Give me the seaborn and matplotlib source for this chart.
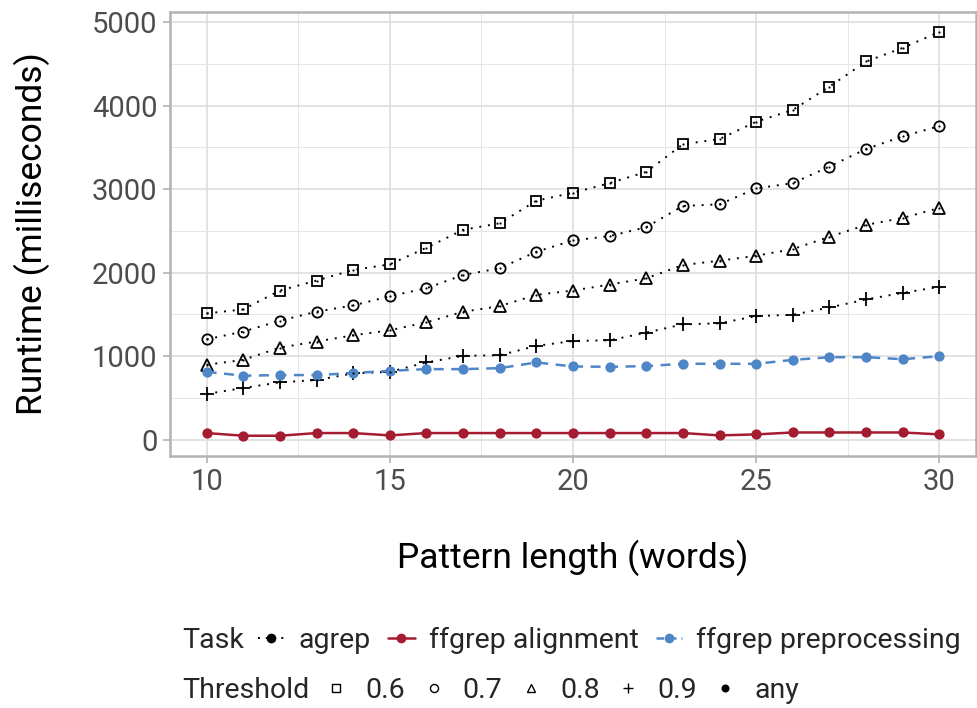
import matplotlib
matplotlib.use("Agg")
import matplotlib.pyplot as plt
import seaborn as sns
import numpy as np
import pandas as pd
from matplotlib.lines import Line2D
from matplotlib.ticker import MultipleLocator

lengths = list(range(10, 31))
agrep_06 = [1512, 1560, 1786, 1905, 2032, 2099, 2298, 2512, 2591, 2861, 2956,
            3071, 3206, 3536, 3599, 3806, 3948, 4226, 4527, 4690, 4881]
agrep_07 = [1202, 1294, 1425, 1532, 1607, 1718, 1813, 1972, 2052, 2250, 2385,
            2437, 2544, 2798, 2817, 3008, 3071, 3270, 3480, 3631, 3754]
agrep_08 = [897, 956, 1103, 1175, 1250, 1310, 1405, 1532, 1599, 1734, 1786,
            1857, 1932, 2091, 2143, 2202, 2282, 2429, 2571, 2655, 2774]
agrep_09 = [548, 619, 687, 714, 794, 813, 925, 1004, 1012, 1123, 1182,
            1190, 1282, 1381, 1393, 1480, 1496, 1583, 1679, 1758, 1830]
ffgrep_alignment = [80, 48, 48, 80, 80, 52, 80, 80, 80, 80, 80,
                    80, 80, 80, 52, 64, 87, 87, 87, 87, 64]
ffgrep_preprocessing = [813, 766, 774, 774, 798, 825, 845, 845, 857, 925, 877,
                        873, 881, 909, 909, 909, 956, 988, 988, 964, 1000]

tasks = ["agrep", "ffgrep alignment", "ffgrep preprocessing"]
thresholds = ["0.6", "0.7", "0.8", "0.9", "any"]

rows = []
for thr, vals in zip(thresholds[:4], [agrep_06, agrep_07, agrep_08, agrep_09]):
    for x, y in zip(lengths, vals):
        rows.append(("agrep", thr, x, y))
for x, y in zip(lengths, ffgrep_alignment):
    rows.append(("ffgrep alignment", "any", x, y))
for x, y in zip(lengths, ffgrep_preprocessing):
    rows.append(("ffgrep preprocessing", "any", x, y))
df = pd.DataFrame(rows, columns=["Task", "Threshold", "length", "runtime"])

RED = "#A51C30"
BLUE = "#4E86C8"
task_colors = {"agrep": "black", "ffgrep alignment": RED, "ffgrep preprocessing": BLUE}
task_ls = {"agrep": (0, (1, 3.5)), "ffgrep alignment": "-", "ffgrep preprocessing": (0, (4, 3))}
task_lw = {"agrep": 1.4, "ffgrep alignment": 1.8, "ffgrep preprocessing": 1.8}
thr_markers = {"0.6": "s", "0.7": "o", "0.8": "^", "0.9": "+", "any": "o"}
thr_ms = {"0.6": 6.8, "0.7": 7.4, "0.8": 8.2, "0.9": 9.4, "any": 7.4}

sns.set_theme(style="white")
plt.rcParams['font.family'] = ['Roboto', 'DejaVu Sans']

fig = plt.figure(figsize=(9.78, 7.08), dpi=100)
ax = fig.add_axes([0.1738, 0.356, 0.998 - 0.1738, 0.9835 - 0.356])

for (task, thr), sub in df.groupby(["Task", "Threshold"], sort=False):
    filled = thr == "any"
    sns.lineplot(data=sub, x="length", y="runtime", ax=ax, color=task_colors[task],
                 linestyle=task_ls[task], linewidth=task_lw[task],
                 marker=thr_markers[thr], markersize=thr_ms[thr],
                 markerfacecolor=task_colors[task] if filled else "none",
                 markeredgecolor=task_colors[task],
                 markeredgewidth=0 if filled else 1.3, zorder=3)
    if not filled:
        sns.scatterplot(data=sub, x="length", y="runtime", ax=ax, color="black",
                        s=2.5, linewidth=0, zorder=4)

ax.set_xlim(9, 31)
ax.set_ylim(-194, 5123)
ax.xaxis.set_major_locator(MultipleLocator(5))
ax.xaxis.set_minor_locator(MultipleLocator(2.5))
ax.yaxis.set_major_locator(MultipleLocator(1000))
ax.yaxis.set_minor_locator(MultipleLocator(500))
ax.grid(True, which="major", color="#DEDEDE", linewidth=1.2, zorder=0)
ax.grid(True, which="minor", color="#E6E6E6", linewidth=0.7, zorder=0)
ax.set_axisbelow(True)
for sp in ax.spines.values():
    sp.set_color("#B3B3B3")
    sp.set_linewidth(1.8)
ax.tick_params(axis="both", which="major", length=5, width=1.2, color="#B3B3B3",
               labelsize=21, labelcolor="#4D4D4D", pad=4, bottom=True, left=True)
ax.tick_params(axis="both", which="minor", length=0)
ax.set_xlabel("Pattern length (words)", fontsize=25.5, color="black", labelpad=31)
ax.set_ylabel("Runtime (milliseconds)", fontsize=25.5, color="black", labelpad=30)

# Legends
def px2fig(x, y):
    return x / 978, 1 - y / 708

LFS = 20.5
tx, ty = px2fig(182, 640)
fig.text(tx, ty, "Task", fontsize=LFS, va="center", ha="left")
task_handles = [
    Line2D([], [], color="black", linestyle=(0, (1, 3)), linewidth=1.4, marker="o",
           markersize=7, markerfacecolor="black", markeredgewidth=0),
    Line2D([], [], color=RED, linestyle="-", linewidth=1.8, marker="o",
           markersize=7, markerfacecolor=RED, markeredgewidth=0),
    Line2D([], [], color=BLUE, linestyle=(0, (3, 2)), linewidth=1.8, marker="o",
           markersize=7, markerfacecolor=BLUE, markeredgewidth=0),
]
lx, ly = px2fig(258, 640)
fig.legend(task_handles, tasks, loc="center left", bbox_to_anchor=(lx, ly), ncol=3,
           frameon=False, fontsize=LFS, handlelength=0.93, handletextpad=0.5,
           columnspacing=0.6, borderaxespad=0, borderpad=0)

tx2, ty2 = px2fig(182, 690)
fig.text(tx2, ty2, "Threshold", fontsize=LFS, va="center", ha="left")
thr_handles = []
for thr in thresholds:
    filled = thr == "any"
    thr_handles.append(Line2D([], [], linestyle="none", marker=thr_markers[thr],
                              markersize={"0.6": 5.2, "0.7": 5.8, "0.8": 6.2, "0.9": 7.5, "any": 5.8}[thr],
                              markerfacecolor="black" if filled else "none",
                              markeredgecolor="black",
                              markeredgewidth=0 if filled else 1.0))
lx2, ly2 = px2fig(325, 690)
fig.legend(thr_handles, thresholds, loc="center left", bbox_to_anchor=(lx2, ly2), ncol=5,
           frameon=False, fontsize=LFS, handlelength=0.8, handletextpad=0.62,
           columnspacing=0.6, borderaxespad=0, borderpad=0)

fig.savefig("out.png", dpi=100)
